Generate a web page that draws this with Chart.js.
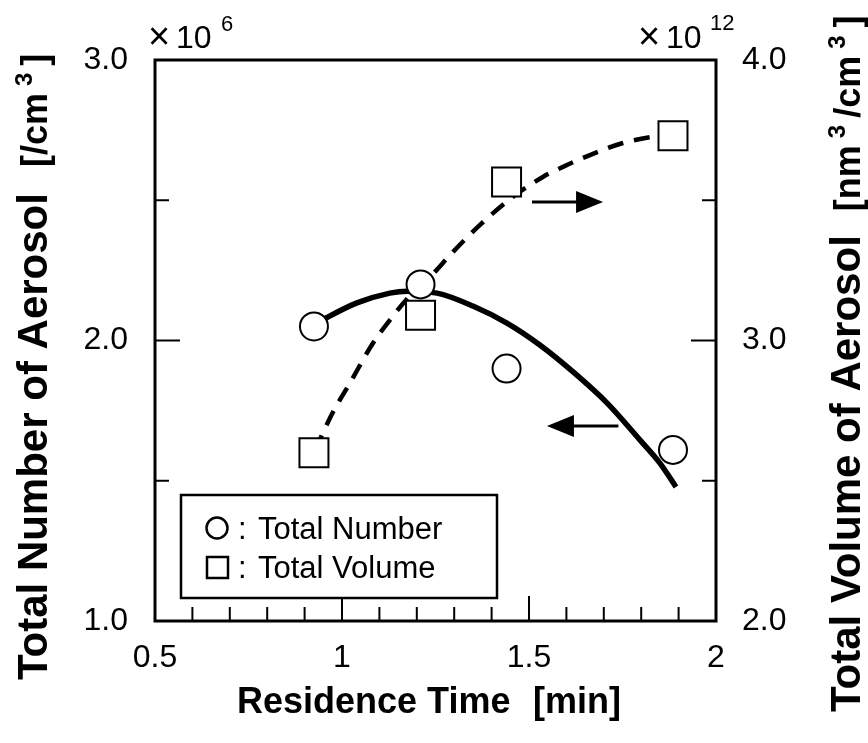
<!DOCTYPE html>
<html>
<head>
<meta charset="utf-8">
<script src="https://cdn.jsdelivr.net/npm/chart.js@4.4.1/dist/chart.umd.min.js"></script>
<style>
  html, body { margin: 0; padding: 0; background: #fff; }
  #wrap { width: 868px; height: 743px; position: relative; }
</style>
</head>
<body>
<div id="wrap"><canvas id="c"></canvas></div>
<script>
// Residence time of each measurement [min]
const residenceTime = [0.925, 1.21, 1.44, 1.885];
// Total number concentration of aerosol [x10^6 /cm^3]
const totalNumber = [2.05, 2.20, 1.90, 1.61];
// Total volume concentration of aerosol [x10^12 nm^3/cm^3]
const totalVolume = [2.60, 3.09, 3.565, 3.73];

// Trend curves, sampled along the drawn lines
const numberTrendX = [0.925, 0.96, 1.04, 1.128, 1.174, 1.254, 1.35, 1.441, 1.529, 1.618, 1.709, 1.797, 1.85, 1.893];
const numberTrendY = [2.055, 2.082, 2.134, 2.169, 2.176, 2.169, 2.123, 2.062, 1.984, 1.888, 1.777, 1.645, 1.563, 1.478];
const volumeTrendX = [0.928, 0.976, 1.021, 1.083, 1.128, 1.176, 1.235, 1.297, 1.369, 1.449, 1.537, 1.591, 1.663, 1.751, 1.824, 1.882];
const volumeTrendY = [2.61, 2.745, 2.848, 2.991, 3.073, 3.151, 3.226, 3.316, 3.412, 3.504, 3.583, 3.619, 3.661, 3.704, 3.725, 3.733];

// Axis tick labels
const xTickLabels = ['0.5', '1', '1.5', '2'];
const leftTickLabels = ['1.0', '2.0', '3.0'];
const rightTickLabels = ['2.0', '3.0', '4.0'];

// Inward tick marks
const xMinorTicks = [0.6, 0.7, 0.8, 0.9, 1.1, 1.2, 1.3, 1.4, 1.6, 1.7, 1.8, 1.9];
const xMajorTicks = [1.0, 1.5];
const leftMinorTicks = [1.5, 2.5];
const leftMajorTicks = [2.0];
const rightMinorTicks = [2.5, 3.5];
const rightMajorTicks = [3.0];

// Arrows pointing each curve to its axis
const numberArrow = { from: 1.739, to: 1.548, y: 1.695 };
const volumeArrow = { from: 1.508, to: 1.698, y: 3.494 };

const FONT = "'Liberation Sans', Arial, Helvetica, sans-serif";

const toPoints = (xs, ys) => xs.map((x, i) => ({ x: x, y: ys[i] }));

const framePlugin = {
  id: 'frame',
  beforeDatasetsDraw(chart) {
    const { ctx, chartArea: a, scales } = chart;
    ctx.save();
    ctx.strokeStyle = '#000';
    ctx.lineWidth = 3;
    ctx.strokeRect(a.left, a.top, a.right - a.left, a.bottom - a.top);
    ctx.lineWidth = 2;
    const seg = (x1, y1, x2, y2) => { ctx.beginPath(); ctx.moveTo(x1, y1); ctx.lineTo(x2, y2); ctx.stroke(); };
    xMinorTicks.forEach(v => { const p = scales.x.getPixelForValue(v); seg(p, a.bottom, p, a.bottom - 14); });
    xMajorTicks.forEach(v => { const p = scales.x.getPixelForValue(v); seg(p, a.bottom, p, a.bottom - 25); });
    leftMinorTicks.forEach(v => { const p = scales.yL.getPixelForValue(v); seg(a.left, p, a.left + 14, p); });
    leftMajorTicks.forEach(v => { const p = scales.yL.getPixelForValue(v); seg(a.left, p, a.left + 25, p); });
    rightMinorTicks.forEach(v => { const p = scales.yR.getPixelForValue(v); seg(a.right, p, a.right - 14, p); });
    rightMajorTicks.forEach(v => { const p = scales.yR.getPixelForValue(v); seg(a.right, p, a.right - 25, p); });
    ctx.restore();
  }
};

function drawArrow(ctx, x1, x2, y) {
  const dir = Math.sign(x2 - x1);
  const headLen = 27, headHalf = 11;
  ctx.beginPath();
  ctx.moveTo(x1, y);
  ctx.lineTo(x2 - dir * headLen + dir * 2, y);
  ctx.lineWidth = 3;
  ctx.stroke();
  ctx.beginPath();
  ctx.moveTo(x2, y);
  ctx.lineTo(x2 - dir * headLen, y - headHalf);
  ctx.lineTo(x2 - dir * headLen, y + headHalf);
  ctx.closePath();
  ctx.fill();
}

function drawRotated(ctx, x, y, parts) {
  ctx.save();
  ctx.translate(x, y);
  ctx.rotate(-Math.PI / 2);
  ctx.textAlign = 'left';
  ctx.textBaseline = 'alphabetic';
  let cx = 0;
  parts.forEach(p => {
    ctx.font = p.font;
    cx += p.gap || 0;
    ctx.fillText(p.text, cx, -(p.raise || 0));
    cx += ctx.measureText(p.text).width;
  });
  ctx.restore();
}

const decorPlugin = {
  id: 'decor',
  afterDatasetsDraw(chart) {
    const { ctx, scales } = chart;
    ctx.save();
    ctx.fillStyle = '#000';
    ctx.strokeStyle = '#000';

    // arrows
    drawArrow(ctx, scales.x.getPixelForValue(volumeArrow.from), scales.x.getPixelForValue(volumeArrow.to), scales.yR.getPixelForValue(volumeArrow.y));
    drawArrow(ctx, scales.x.getPixelForValue(numberArrow.from), scales.x.getPixelForValue(numberArrow.to), scales.yL.getPixelForValue(numberArrow.y));

    // legend box
    ctx.fillStyle = '#fff';
    ctx.fillRect(181, 495, 316, 103);
    ctx.lineWidth = 2.5;
    ctx.strokeRect(181, 495, 316, 103);
    ctx.fillStyle = '#000';
    ctx.lineWidth = 2.5;
    ctx.beginPath();
    ctx.arc(217, 528, 10.5, 0, Math.PI * 2);
    ctx.stroke();
    ctx.strokeRect(207, 557, 21, 21);
    ctx.font = '31px ' + FONT;
    ctx.textBaseline = 'alphabetic';
    ctx.textAlign = 'left';
    ctx.fillText(':', 238, 539);
    ctx.fillText(chart.data.datasets[0].label, 258, 539);
    ctx.fillText(':', 238, 578);
    ctx.fillText(chart.data.datasets[1].label, 258, 578);

    // axis multipliers
    ctx.font = '38px ' + FONT;
    ctx.fillText('\u00d7', 148, 49);
    ctx.fillText('\u00d7', 638, 49);
    ctx.font = '32px ' + FONT;
    ctx.fillText('10', 176, 48);
    ctx.fillText('10', 666, 48);
    ctx.font = '22px ' + FONT;
    ctx.fillText('6', 221, 31);
    ctx.fillText('12', 710, 30);

    // axis titles
    ctx.font = 'bold 36px ' + FONT;
    ctx.fillText('Residence Time', 237, 713);
    ctx.fillText('[min]', 533, 713);

    drawRotated(ctx, 47, 680, [
      { text: 'Total Number of Aerosol', font: 'bold 42px ' + FONT },
      { text: '[/cm', font: 'bold 36px ' + FONT, gap: 26 },
      { text: '3', font: 'bold 24px ' + FONT, gap: 7, raise: 15 },
      { text: ']', font: 'bold 36px ' + FONT, gap: 7 }
    ]);
    drawRotated(ctx, 860, 712, [
      { text: 'Total Volume of Aerosol', font: 'bold 42px ' + FONT },
      { text: '[nm', font: 'bold 36px ' + FONT, gap: 24 },
      { text: '3', font: 'bold 24px ' + FONT, gap: 7, raise: 15 },
      { text: '/cm', font: 'bold 36px ' + FONT, gap: 7 },
      { text: '3', font: 'bold 24px ' + FONT, gap: 7, raise: 15 },
      { text: ']', font: 'bold 36px ' + FONT, gap: 8 }
    ]);
    ctx.restore();
  }
};

const tickFont = { family: FONT, size: 32 };

new Chart(document.getElementById('c'), {
  type: 'scatter',
  data: {
    datasets: [
      {
        label: 'Total Number',
        data: toPoints(residenceTime, totalNumber),
        yAxisID: 'yL',
        pointStyle: 'circle',
        pointRadius: 14,
        pointBackgroundColor: '#fff',
        pointBorderColor: '#000',
        pointBorderWidth: 2,
        showLine: false
      },
      {
        label: 'Total Volume',
        data: toPoints(residenceTime, totalVolume),
        yAxisID: 'yR',
        pointStyle: 'rect',
        pointRadius: 20.5,
        pointBackgroundColor: '#fff',
        pointBorderColor: '#000',
        pointBorderWidth: 2,
        showLine: false
      },
      {
        label: 'Total Number trend',
        data: toPoints(numberTrendX, numberTrendY),
        yAxisID: 'yL',
        showLine: true,
        borderColor: '#000',
        borderWidth: 5.5,
        pointRadius: 0,
        cubicInterpolationMode: 'monotone',
        fill: false
      },
      {
        label: 'Total Volume trend',
        data: toPoints(volumeTrendX, volumeTrendY),
        yAxisID: 'yR',
        showLine: true,
        borderColor: '#000',
        borderWidth: 4.5,
        borderDash: [16, 11],
        pointRadius: 0,
        cubicInterpolationMode: 'monotone',
        fill: false
      }
    ]
  },
  options: {
    responsive: true,
    maintainAspectRatio: false,
    animation: false,
    devicePixelRatio: 1,
    layout: { padding: { top: 60, left: 0, right: 0, bottom: 0 }, autoPadding: false },
    plugins: { legend: { display: false }, tooltip: { enabled: false } },
    scales: {
      x: {
        type: 'linear', position: 'bottom', min: 0.5, max: 2,
        grid: { display: false, drawTicks: false },
        border: { display: false },
        ticks: { stepSize: 0.5, padding: 18, color: '#000', font: tickFont, autoSkip: false, maxRotation: 0,
          callback: (v, i) => xTickLabels[i] },
        afterFit(s) { s.height = 122; }
      },
      yL: {
        type: 'linear', position: 'left', min: 1, max: 3,
        grid: { display: false, drawTicks: false },
        border: { display: false },
        ticks: { stepSize: 1, padding: 27, color: '#000', font: tickFont, autoSkip: false,
          callback: (v, i) => leftTickLabels[i] },
        afterFit(s) { s.width = 155; }
      },
      yR: {
        type: 'linear', position: 'right', min: 2, max: 4,
        grid: { display: false, drawTicks: false },
        border: { display: false },
        ticks: { stepSize: 1, padding: 26, color: '#000', font: tickFont, autoSkip: false,
          callback: (v, i) => rightTickLabels[i] },
        afterFit(s) { s.width = 152; }
      }
    }
  },
  plugins: [framePlugin, decorPlugin]
});
</script>
</body>
</html>
